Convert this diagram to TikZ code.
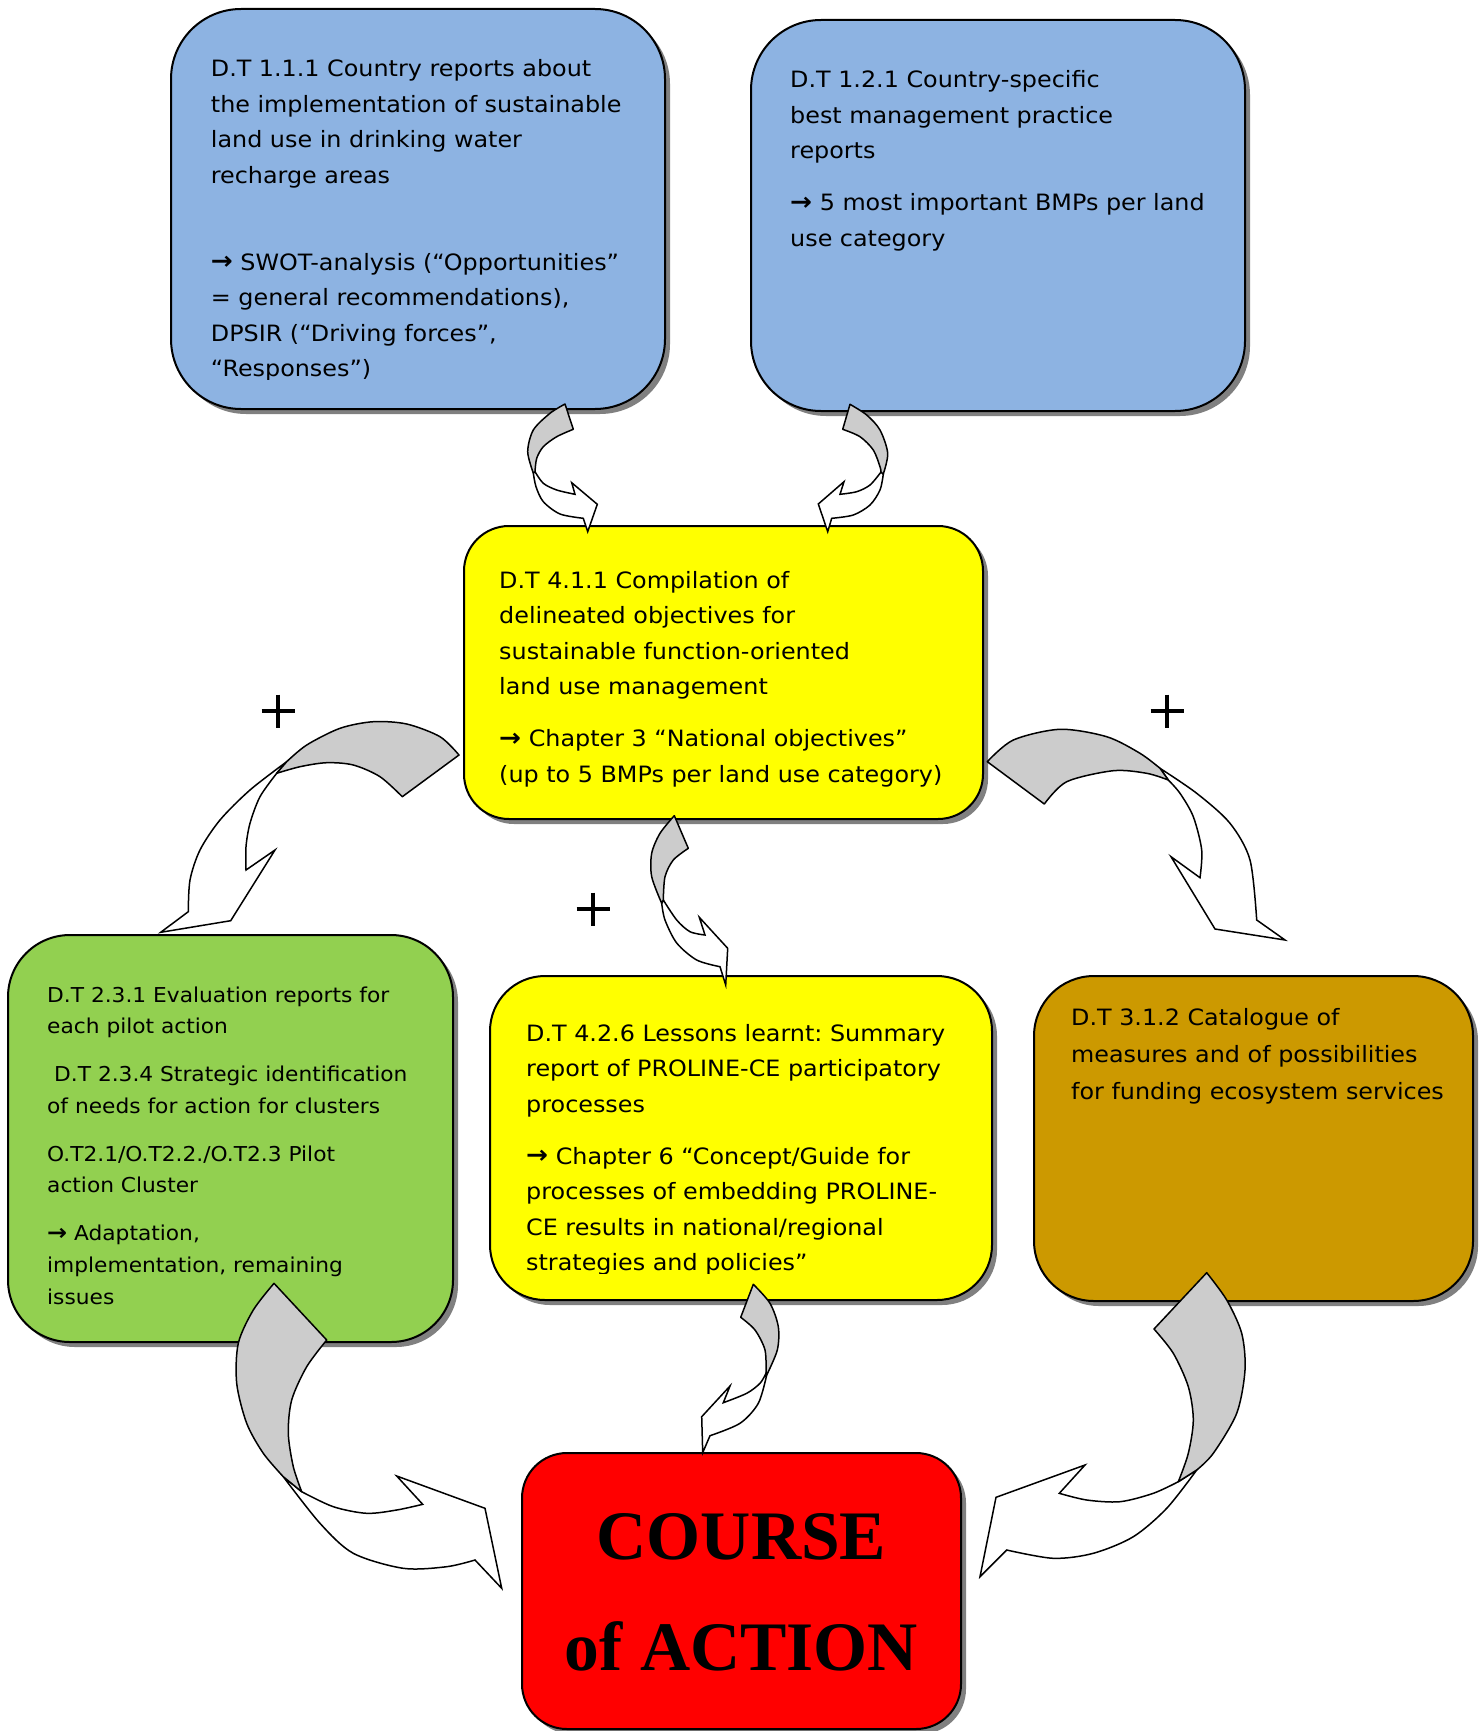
\documentclass[tikz,border=0pt]{standalone}
\usepackage{fontspec}
\setmainfont{DejaVu Sans}[FakeStretch=1.06]
\newfontfamily\titlefont{Liberation Serif}
\usetikzlibrary{shadows}
\definecolor{cblue}{HTML}{8DB3E2}
\definecolor{cyellow}{HTML}{FFFF00}
\definecolor{cgreen}{HTML}{92D050}
\definecolor{cbrown}{HTML}{CC9900}
\definecolor{cred}{HTML}{FF0000}
\definecolor{agrey}{HTML}{CCCCCC}
\newcommand\myarr{{\bfseries\raisebox{0.5pt}{\scalebox{1.1}{→}}}}
\frenchspacing
\tikzset{
  box/.style={draw=black, line width=2pt, inner sep=0pt,
    drop shadow={shadow xshift=5pt, shadow yshift=-5pt, fill=black!50, opacity=1}},
  txt/.style={anchor=base west, inner sep=0pt, font=\fontsize{22.5}{35.5}\selectfont},
  gtxt/.style={anchor=base west, inner sep=0pt, font=\fontsize{20.5}{31.7}\selectfont},
  ttl/.style={anchor=base, inner sep=0pt, font=\titlefont\bfseries\fontsize{69.5}{70}\selectfont},
  greyarrow/.style={fill=agrey, draw=black, line width=1.5pt, line join=round},
  whitearrow/.style={fill=white, draw=black, line width=1.5pt, line join=miter},
  plus/.style={line width=3.2pt, black}
}
\begin{document}
\begin{tikzpicture}[x=1pt, y=-1pt]
\useasboundingbox (0,0) rectangle (1482,1731);
\fill[white] (0,0) rectangle (1482,1731);

% boxes
\node[box, fill=cblue, minimum width=494pt, minimum height=400pt, rounded corners=70pt] (b1) at (418,209) {};
\node[box, fill=cblue, minimum width=494pt, minimum height=391pt, rounded corners=70pt] (b2) at (998,215.5) {};
\node[box, fill=cyellow, minimum width=519pt, minimum height=293pt, rounded corners=45pt] (b3) at (723.5,672.5) {};
\node[box, fill=cgreen, minimum width=445pt, minimum height=407pt, rounded corners=62pt] (b4) at (230.5,1138.5) {};
\node[box, fill=cyellow, minimum width=502pt, minimum height=324pt, rounded corners=55pt] (b5) at (741,1138) {};
\node[box, fill=cbrown, minimum width=439pt, minimum height=325pt, rounded corners=60pt] (b6) at (1253.5,1138.5) {};
\node[box, fill=cred, minimum width=439pt, minimum height=276pt, rounded corners=45pt] (b7) at (741.5,1591) {};

% texts
\begin{scope}
\clip (0,0) rectangle (1482,379);
\node[txt] (t1) at (210.7,77) {\begin{tabular}[t]{@{}l@{}}
D.T 1.1.1 Country reports about\\
the implementation of sustainable\\
land use in drinking water\\
recharge areas\\[51.5pt]
\myarr{} SWOT-analysis (“Opportunities”\\
= general recommendations),\\
DPSIR (“Driving forces”,\\
“Responses”)
\end{tabular}};
\end{scope}

\node[txt] (t2) at (790,88) {\begin{tabular}[t]{@{}l@{}}
D.T 1.2.1 Country-specific\\
best management practice\\
reports\\[16.5pt]
\myarr{} 5 most important BMPs per land\\
use category
\end{tabular}};

\node[txt] (t3) at (499,588) {\begin{tabular}[t]{@{}l@{}}
D.T 4.1.1 Compilation of\\
delineated objectives for\\
sustainable function-oriented\\
land use management\\[16.5pt]
\myarr{} Chapter 3 “National objectives”\\
(up to 5 BMPs per land use category)
\end{tabular}};

\node[gtxt] (t4) at (47,1002) {\begin{tabular}[t]{@{}l@{}}
D.T 2.3.1 Evaluation reports for\\
each pilot action\\[16.2pt]
\hspace{7pt}D.T 2.3.4 Strategic identification\\
of needs for action for clusters\\[16.2pt]
O.T2.1/O.T2.2./O.T2.3 Pilot\\
action Cluster\\[16.2pt]
\myarr{} Adaptation,\\
implementation, remaining\\
issues
\end{tabular}};

\begin{scope}
\clip (0,0) rectangle (1482,1273);
\node[txt] (t5) at (526,1041) {\begin{tabular}[t]{@{}l@{}}
D.T 4.2.6 Lessons learnt: Summary\\
report of PROLINE-CE participatory\\
processes\\[16.5pt]
\myarr{} Chapter 6 “Concept/Guide for\\
processes of embedding PROLINE-\\
CE results in national/regional\\
strategies and policies”
\end{tabular}};
\end{scope}

\node[txt] (t6) at (1071,1025) {\begin{tabular}[t]{@{}l@{}}
D.T 3.1.2 Catalogue of\\[1.5pt]
measures and of possibilities\\[1.5pt]
for funding ecosystem services
\end{tabular}};

\node[ttl] (t7a) at (741.5,1559) {COURSE};
\node[ttl] (t7b) at (741.5,1670) {of ACTION};

% plus signs
\draw[plus] (261.5,711) -- (294.5,711) (278,694.5) -- (278,727.5);
\draw[plus] (576.5,909) -- (609.5,909) (593,892.5) -- (593,925.5);
\draw[plus] (1150.5,711) -- (1183.5,711) (1167,694.5) -- (1167,727.5);

% Arrow A (b1 -> b3)
\filldraw[whitearrow] plot[smooth] coordinates {(533.3,473) (536,486.7) (543.3,501.7) (560,514) (583.3,518.3)}
  -- (587.7,531.7) -- (597.3,504.3) -- (571.7,482.7)
  -- plot[smooth] coordinates {(575,494.3) (556.7,490) (543.3,483.3) (535,471.7)} -- cycle;
\filldraw[greyarrow] plot[smooth] coordinates {(565,404) (550,413.3) (533.3,430) (527.7,451.7) (533.3,473)}
  -- plot[smooth] coordinates {(535,471.7) (536.7,458.3) (543.3,446.7) (556.7,436.7) (573.3,429.3)} -- cycle;

% Arrow B (b2 -> b3)
\filldraw[whitearrow] plot[smooth] coordinates {(883.3,474) (880,490) (870,505) (853.3,515) (831.7,518.3)}
  -- (827.7,531.7) -- (818.3,504) -- (844,481.7)
  -- plot[smooth] coordinates {(840,494.3) (856.7,491.7) (870,485) (881,472)} -- cycle;
\filldraw[greyarrow] plot[smooth] coordinates {(850,404.3) (866.7,415) (880,430) (887.7,453.3) (883.3,474)}
  -- plot[smooth] coordinates {(881,472) (880,466.7) (873.3,450) (860,436.7) (842.7,429.3)} -- cycle;

% Arrow C (b3 -> b4)
\filldraw[whitearrow] plot[smooth] coordinates {(286.7,761.7) (250,790) (220,820) (200,850) (190,880) (188.3,911.7)}
  -- (160.7,932.3) -- (230.7,920.7) -- (275,850)
  -- plot[smooth] coordinates {(246,870) (246,846.7) (250,823.3) (260,796.7) (276.7,773.3)} -- cycle;
\filldraw[greyarrow] plot[smooth] coordinates {(459,755) (440,736.7) (406.7,724) (373.3,721.7) (340,728.3) (306.7,745) (286.7,761.7)}
  -- plot[smooth] coordinates {(276.7,773.3) (300,766.7) (326.7,762.7) (353.3,765) (380,776.7) (402.3,796.7)} -- cycle;

% Arrow D (b3 -> b6)
\filldraw[whitearrow] plot[smooth] coordinates {(1160,768.3) (1196.7,793.3) (1230,823.3) (1250,860) (1256.7,920)}
  -- (1285,940) -- (1215,929) -- (1171,856.7)
  -- plot[smooth] coordinates {(1200,877.7) (1201.7,850) (1193.3,816.7) (1180,793.3) (1168.3,780)} -- cycle;
\filldraw[greyarrow] plot[smooth] coordinates {(987.3,761.7) (1013.3,740) (1060,729.3) (1106.7,736.7) (1140,753.3) (1160,768.3)}
  -- plot[smooth] coordinates {(1168.3,780) (1146.7,773.3) (1113.3,770.7) (1066.7,781.7) (1044.3,804)} -- cycle;

% Arrow E (b3 -> b5)
\filldraw[whitearrow] plot[smooth] coordinates {(661.7,903.3) (665,920) (676.7,943) (696.7,960) (720,966.7)}
  -- (725.7,985) -- (727.7,948.3) -- (699.3,917.3)
  -- plot[smooth] coordinates {(705,935) (690,931.7) (676.7,920) (663.3,900)} -- cycle;
\filldraw[greyarrow] plot[smooth] coordinates {(674.3,815.7) (660,833.3) (651.7,853.3) (651.7,876.7) (661.7,903.3)}
  -- plot[smooth] coordinates {(663.3,900) (665,876.7) (673.3,860) (688.3,848.3)} -- cycle;

% Arrow F (b4 -> b7)
\filldraw[whitearrow] plot[smooth] coordinates {(283.3,1476.7) (320,1523.3) (353.3,1553.3) (403.3,1568.3) (446.7,1566.7) (475,1560)}
  -- (501.7,1588.3) -- (485,1508.3) -- (396.7,1476)
  -- plot[smooth] coordinates {(422.7,1504.3) (396.7,1510) (366.7,1513.3) (333.3,1506.7) (301.7,1491.7)} -- cycle;
\filldraw[greyarrow] plot[smooth] coordinates {(274,1283.3) (253.3,1310) (238.3,1343.3) (236.7,1383.3) (246.7,1423.3) (263.3,1453.3) (283.3,1476.7)}
  -- plot[smooth] coordinates {(301.7,1491.7) (293.3,1466.7) (288.3,1433.3) (291.7,1400) (306.7,1366.7) (326.7,1340)} -- cycle;

% Arrow G (b6 -> b7)
\filldraw[whitearrow] plot[smooth] coordinates {(1196.7,1470) (1166.7,1508.3) (1133.3,1536.7) (1093.3,1553.3) (1053.3,1558.3) (1006.7,1550)}
  -- (980,1576.7) -- (996,1497.3) -- (1085,1465)
  -- plot[smooth] coordinates {(1059.3,1493.3) (1086.7,1500) (1120,1501.7) (1153.3,1493.3) (1178.3,1481.7)} -- cycle;
\filldraw[greyarrow] plot[smooth] coordinates {(1206.7,1272.7) (1226.7,1300) (1241.7,1333.3) (1245,1370) (1236.7,1413.3) (1213.3,1453.3) (1196.7,1470)}
  -- plot[smooth] coordinates {(1178.3,1481.7) (1188.3,1453.3) (1193.3,1420) (1188.3,1386.7) (1173.3,1353.3) (1154,1329)} -- cycle;

% Arrow H (b5 -> b7)
\filldraw[whitearrow] plot[smooth] coordinates {(766.7,1375) (758.3,1403.3) (740,1423.3) (710,1435.7)}
  -- (702.7,1452.7) -- (701.7,1416.7) -- (730,1386)
  -- plot[smooth] coordinates {(723.3,1402.7) (746.7,1393.3) (760,1383.3) (766,1373.3)} -- cycle;
\filldraw[greyarrow] plot[smooth] coordinates {(753.3,1284.3) (770,1303.3) (778.3,1326.7) (777.3,1350) (766.7,1375)}
  -- plot[smooth] coordinates {(766,1373.3) (765,1350) (755,1330) (740.7,1317.3)} -- cycle;
\end{tikzpicture}
\end{document}
